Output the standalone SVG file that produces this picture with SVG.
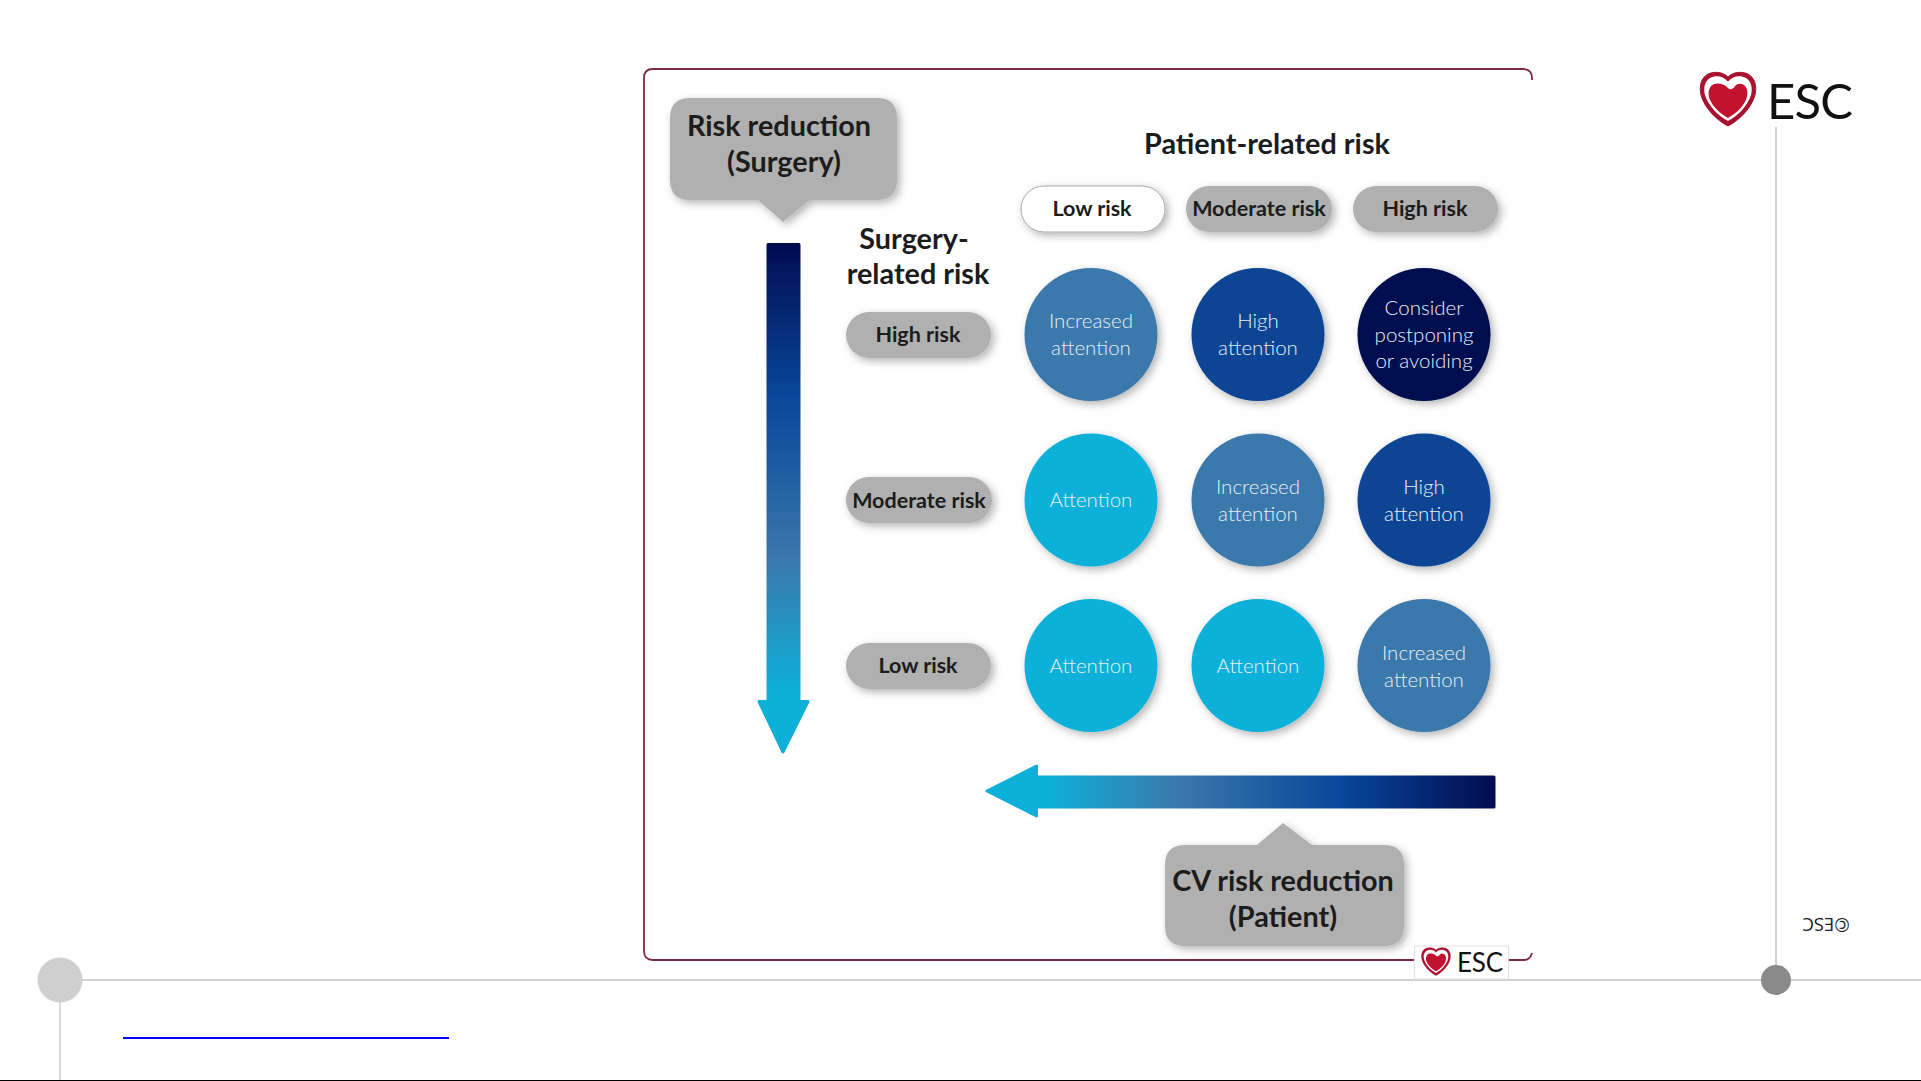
<svg xmlns="http://www.w3.org/2000/svg" xmlns:xlink="http://www.w3.org/1999/xlink" width="1921" height="1081" viewBox="0 0 1921 1081">
<style>
text{font-family:Lato,"Liberation Sans",sans-serif;text-anchor:middle}
.pill{fill:#b0b0b0;filter:url(#sh)}
.pillw{fill:#fff;stroke:#a8a8a8;stroke-width:1;filter:url(#sh)}
.pt{font-size:21.5px;font-weight:700;fill:#1c1c1c}
.h{font-size:28.800px;font-weight:700;fill:#1c1c1c}
.ct{font-size:20.500px;font-weight:300;fill:#e8f0f5}
.c1{fill:#0cb0d8;filter:url(#sh)}
.c2{fill:#3b78ab;filter:url(#sh)}
.c3{fill:#084594;filter:url(#sh)}
.c4{fill:#020c50;filter:url(#sh)}
.lg{fill:none;stroke:#d0d0d0;stroke-width:2}
.esc{font-family:Lato,"Liberation Sans",sans-serif;fill:#111;text-anchor:start}
</style>
<defs>
<filter id="sh" x="-20%" y="-20%" width="145%" height="145%"><feDropShadow dx="3" dy="3" stdDeviation="4" flood-color="#000" flood-opacity="0.3"/></filter>
<linearGradient id="gv" gradientUnits="userSpaceOnUse" x1="0" y1="243" x2="0" y2="754">
<stop offset="0" stop-color="#020c50"/><stop offset="0.3" stop-color="#08479a"/><stop offset="0.62" stop-color="#3b78ab"/><stop offset="0.88" stop-color="#0cb0d8"/></linearGradient>
<linearGradient id="gh" gradientUnits="userSpaceOnUse" x1="1495" y1="0" x2="985" y2="0">
<stop offset="0" stop-color="#020c50"/><stop offset="0.3" stop-color="#08479a"/><stop offset="0.62" stop-color="#3b78ab"/><stop offset="0.88" stop-color="#0cb0d8"/></linearGradient>
<symbol id="heart" viewBox="0 0 58 56" overflow="visible">
<path d="M29 6C24 1 16 0 9 3C2 7 0 15 2 24C5 36 17 49 29 55C41 49 53 36 56 24C58 15 56 7 49 3C42 0 34 1 29 6Z" fill="#a8122e" stroke="#a8122e" stroke-width="1"/>
<path d="M29 11C25 5 17 4 11 7C6 10 4 17 6 24C9 34 19 45 29 50C39 45 49 34 52 24C54 17 52 10 47 7C41 4 33 5 29 11Z" fill="#fff"/>
<path d="M28 16C24 12 16 11 12 15C9 19 9 24 11 29C14 36 22 43 29 47C36 43 44 36 47 29C49 24 49 18 46 15C43 12 39 12 36 15C34 19 30 19 28 16Z" fill="#c3122f"/>
<circle cx="30" cy="13" r="3" fill="#fff"/>
</symbol>
</defs>
<rect width="1921" height="1081" fill="#fff"/>
<g id="slide-lines">
<path class="lg" d="M60 980H1921"/>
<path class="lg" d="M60 980V1080" style="stroke:#d9d9d9"/>
<path class="lg" d="M1776 127V980"/>
<path d="M123 1038H449" stroke="#0000ff" stroke-width="2" fill="none"/>
<rect x="0" y="1080" width="1921" height="1" fill="#000"/>
</g>
<g id="dot-left"><circle cx="60" cy="980" r="22.500" fill="#cfcfcf"/></g>
<g id="dot-right"><circle cx="1776" cy="980" r="15" fill="#8a8a8a"/></g>
<g id="esc-logo">
<use xlink:href="#heart" href="#heart" x="1699" y="71" width="58" height="56"/>
<text class="esc" x="1767" y="119" font-size="49" textLength="86" lengthAdjust="spacing">ESC</text>
</g>
<g id="copyright"><text transform="rotate(180 1826 924)" x="1826" y="930" style="font-family:'Open Sans',sans-serif;font-size:18.500px;fill:#222">©ESC</text></g>
<g id="frame">
<path d="M1532 80V78Q1532 69 1523 69H653Q644 69 644 78V951Q644 960 653 960H1524Q1530 960 1532 953" fill="none" stroke="#7c2a3e" stroke-width="1.800"/>
</g>
<g id="connectors">
<path id="arrow-surgery" d="M768 244.500H799V701.500H808L783 752L759 701.500H768Z" fill="url(#gv)" stroke="url(#gv)" stroke-width="3" stroke-linejoin="round"/>
<path id="arrow-patient" d="M1494 777V807H1036.500V816L987 791L1036.500 766V777Z" fill="url(#gh)" stroke="url(#gh)" stroke-width="3" stroke-linejoin="round"/>
</g>
<g id="callout-surgery">
<path class="pill" d="M690 98H877Q897 98 897 118V180Q897 200 877 200H810L783 222L758 200H690Q670 200 670 180V118Q670 98 690 98Z"/>
<text class="h" x="779" y="136">Risk reduction</text>
<text class="h" x="784" y="172">(Surgery)</text>
</g>
<g id="callout-patient">
<path class="pill" d="M1185 845H1257L1283 823L1312 845H1384Q1404 845 1404 865V926Q1404 946 1384 946H1185Q1165 946 1165 926V865Q1165 845 1185 845Z"/>
<text class="h" x="1283" y="891">CV risk reduction</text>
<text class="h" x="1283" y="927">(Patient)</text>
</g>
<g id="title-patient"><text class="h" x="1267" y="154">Patient-related risk</text></g>
<g id="title-surgery">
<text class="h" x="914" y="249">Surgery-</text>
<text class="h" x="918" y="284">related risk</text>
</g>
<g id="p-low"><rect class="pillw" x="1021" y="186" width="144" height="46" rx="23"/><text class="pt" x="1092" y="216">Low risk</text></g>
<g id="p-mod"><rect class="pill" x="1186" y="186" width="146" height="46" rx="23"/><text class="pt" x="1259" y="216">Moderate risk</text></g>
<g id="p-high"><rect class="pill" x="1353" y="186" width="145" height="46" rx="23"/><text class="pt" x="1425" y="216">High risk</text></g>
<g id="s-high"><rect class="pill" x="846" y="312" width="145" height="46" rx="23"/><text class="pt" x="918" y="342">High risk</text></g>
<g id="s-mod"><rect class="pill" x="846" y="477" width="146" height="46" rx="23"/><text class="pt" x="919" y="508">Moderate risk</text></g>
<g id="s-low"><rect class="pill" x="846" y="643" width="145" height="46" rx="23"/><text class="pt" x="918" y="673">Low risk</text></g>
<g id="c11"><circle class="c2" cx="1091" cy="334.500" r="66.500"/><text class="ct" x="1091" y="328">Increased</text><text class="ct" x="1091" y="355">attention</text></g>
<g id="c12"><circle class="c3" cx="1258" cy="334.500" r="66.500"/><text class="ct" x="1258" y="328">High</text><text class="ct" x="1258" y="355">attention</text></g>
<g id="c13"><circle class="c4" cx="1424" cy="334.500" r="66.500"/><text class="ct" x="1424" y="315">Consider</text><text class="ct" x="1424" y="342">postponing</text><text class="ct" x="1424" y="368">or avoiding</text></g>
<g id="c21"><circle class="c1" cx="1091" cy="500" r="66.500"/><text class="ct" x="1091" y="507">Attention</text></g>
<g id="c22"><circle class="c2" cx="1258" cy="500" r="66.500"/><text class="ct" x="1258" y="494">Increased</text><text class="ct" x="1258" y="521">attention</text></g>
<g id="c23"><circle class="c3" cx="1424" cy="500" r="66.500"/><text class="ct" x="1424" y="494">High</text><text class="ct" x="1424" y="521">attention</text></g>
<g id="c31"><circle class="c1" cx="1091" cy="665.500" r="66.500"/><text class="ct" x="1091" y="673">Attention</text></g>
<g id="c32"><circle class="c1" cx="1258" cy="665.500" r="66.500"/><text class="ct" x="1258" y="673">Attention</text></g>
<g id="c33"><circle class="c2" cx="1424" cy="665.500" r="66.500"/><text class="ct" x="1424" y="660">Increased</text><text class="ct" x="1424" y="687">attention</text></g>
<g id="esc-badge">
<rect x="1414.500" y="946" width="94" height="33" fill="#fff" stroke="#e2e2e2" stroke-width="1"/>
<use xlink:href="#heart" href="#heart" x="1420" y="947" width="32" height="29"/>
<text class="esc" x="1457" y="972" font-size="26" textLength="46" lengthAdjust="spacing">ESC</text>
</g>
</svg>
